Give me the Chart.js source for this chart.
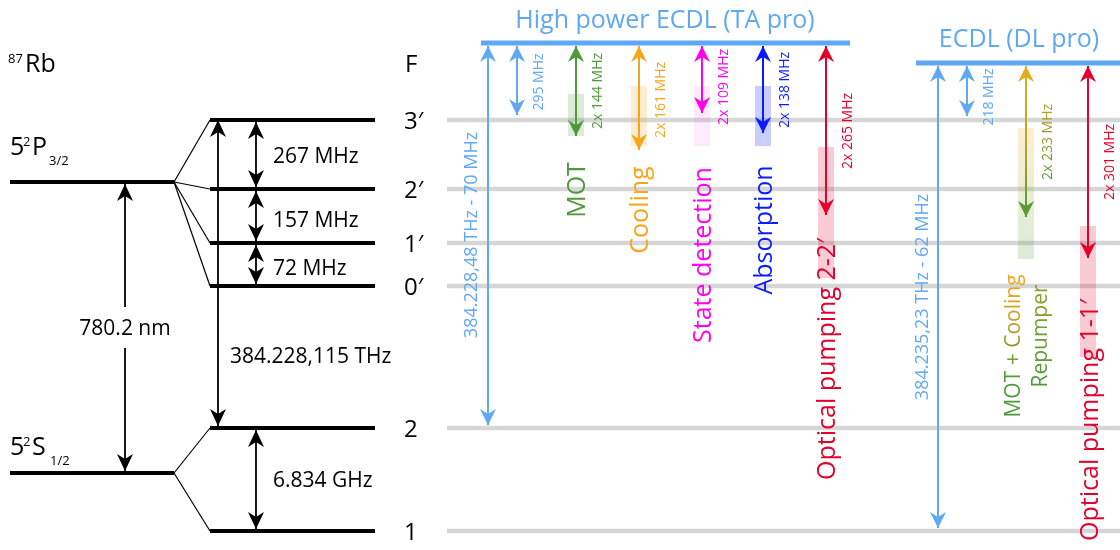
<!DOCTYPE html>
<html>
<head>
<meta charset="utf-8">
<script src="https://cdn.jsdelivr.net/npm/chart.js@4.4.1/dist/chart.umd.min.js"></script>
<style>
  html, body { margin: 0; padding: 0; background: #fff; }
  #wrap { width: 1120px; height: 550px; }
</style>
</head>
<body>
<div id="wrap"><canvas id="c"></canvas></div>
<script>
// 87Rb D2 line level scheme + laser setup, drawn on a schematic energy axis
// (arbitrary units, not to scale)

// --- levels ---
const hfNames   = ['3′', '2′', '1′', '0′', '2', '1'];
const hfEnergy  = [430, 361, 307, 264, 122, 19];
const fineEnergy = [368, 77];                 // 5²P3/2, 5²S1/2
const splitLabels = ['267 MHz', '157 MHz', '72 MHz', '6.834 GHz'];
const d2Labels = ['780.2 nm', '384.228,115 THz'];

// --- high power ECDL (TA pro) ---
const taTitle = 'High power ECDL (TA pro)';
const taLevel = 507;
const taUses   = ['', '', 'MOT', 'Cooling', 'State detection', 'Absorption', 'Optical pumping 2-2′'];
const taShifts = ['384.228,48 THz - 70 MHz', '295 MHz', '2x 144 MHz', '2x 161 MHz', '2x 109 MHz', '2x 138 MHz', '2x 265 MHz'];
const taArrowEnd  = [125, 435, 414, 400, 437, 417, 335];
const taShadeTop  = [null, null, 456, 464, 464, 464, 403];
const taShadeBot  = [null, null, 414, 404, 404, 404, 272];

// --- ECDL (DL pro) ---
const dlTitle = 'ECDL (DL pro)';
const dlLevel = 487;
const dlUses   = ['', '', 'MOT + Cooling', 'Optical pumping 1-1′'];
const dlUses2  = ['', '', 'Repumper', ''];
const dlShifts = ['384.235,23 THz - 62 MHz', '218 MHz', '2x 233 MHz', '2x 301 MHz'];
const dlArrowEnd = [22, 434, 333, 292];
const dlShadeTop = [null, null, 422, 324];
const dlShadeBot = [null, null, 291, 193];

// --- colours ---
const LBLUE = '#5ea8f4', GREEN = '#4e9a3b', ORANGE = '#f8a51c', MAGENTA = '#ff00f0',
      BLUE = '#0a1bff', RED = '#e3002c', GOLD = '#e2ad1f', GRAY = '#d6d6d6';
const taColors = [LBLUE, LBLUE, GREEN, ORANGE, MAGENTA, BLUE, RED];
const taShadeColors = [null, null, 'rgba(78,154,59,0.2)', 'rgba(248,165,28,0.2)',
                       'rgba(255,0,240,0.08)', 'rgba(10,27,255,0.22)', 'rgba(227,0,44,0.2)'];
const dlColors = [LBLUE, LBLUE, 'grad', RED];

// --- layout (x columns, label anchors) ---
const L = {
  fineX: [10, 174], hfX: [210, 375], grayX: [447, 1120],
  taBar: [481, 850], dlBar: [916, 1120],
  taCol: [488, 517, 576, 639, 702, 763, 826],
  dlCol: [938, 967, 1026, 1088],
  taShiftY: [315, 468, 459, 450, 463, 460, 419],
  dlShiftY: [253, 453, 408, 388],
  taUseY: [0, 0, 360, 340, 295, 320, 191],
  dlUseY: [0, 0, 204, 130],
  d2X: 125, d2Gap: [243, 202], d2bX: 218, splitX: 256
};

function seg(x1, y1, x2, y2, color, width, extra) {
  return Object.assign({
    data: [{ x: x1, y: y1 }, { x: x2, y: y2 }],
    showLine: true, borderColor: color, borderWidth: width,
    pointRadius: 0, pointHoverRadius: 0, fill: false, tension: 0
  }, extra || {});
}

const datasets = [];

// grey reference lines across the laser area
hfEnergy.forEach(e => datasets.push(seg(L.grayX[0], e, L.grayX[1], e, GRAY, 4.5, { order: 9 })));

// fine and hyperfine levels
fineEnergy.forEach(e => datasets.push(seg(L.fineX[0], e, L.fineX[1], e, '#000', 4, { order: 5 })));
hfEnergy.forEach(e => datasets.push(seg(L.hfX[0], e, L.hfX[1], e, '#000', 4, { order: 5 })));
// splitting fans
hfEnergy.slice(0, 4).forEach(e => datasets.push(seg(L.fineX[1], fineEnergy[0], L.hfX[0], e, '#000', 1.2, { order: 6 })));
hfEnergy.slice(4).forEach(e => datasets.push(seg(L.fineX[1], fineEnergy[1], L.hfX[0], e, '#000', 1.2, { order: 6 })));

// black arrows: 780.2 nm (broken for label), F=2 -> F'=3, splittings
const BH = { len: 17, half: 8, notch: 5 };
datasets.push(seg(L.d2X, L.d2Gap[0], L.d2X, fineEnergy[0] - 2, '#000', 1.8, { order: 3, heads: ['end'], head: BH }));
datasets.push(seg(L.d2X, L.d2Gap[1], L.d2X, fineEnergy[1] + 2, '#000', 1.8, { order: 3, heads: ['end'], head: BH }));
datasets.push(seg(L.d2bX, hfEnergy[4] + 2, L.d2bX, hfEnergy[0], '#000', 1.8, { order: 3, heads: ['start', 'end'], head: BH }));
[[0, 1], [1, 2], [2, 3], [4, 5]].forEach(([a, b]) => {
  datasets.push(seg(L.splitX, hfEnergy[a] - 2, L.splitX, hfEnergy[b] + 2, '#000', 1.8,
    { order: 3, heads: ['start', 'end'], head: BH }));
});

// laser bars
datasets.push(seg(L.taBar[0], taLevel, L.taBar[1], taLevel, LBLUE, 5, { order: 4 }));
datasets.push(seg(L.dlBar[0], dlLevel, L.dlBar[1], dlLevel, LBLUE, 5, { order: 4 }));

const CH = { len: 16, half: 8, notch: 5 };

function vGradient(chart, yTop, yBot, stops) {
  const ys = chart.scales.y;
  const g = chart.ctx.createLinearGradient(0, ys.getPixelForValue(yTop), 0, ys.getPixelForValue(yBot));
  stops.forEach((c, i) => g.addColorStop(i / (stops.length - 1), c));
  return g;
}

// TA pro beams
L.taCol.forEach((x, i) => {
  if (taShadeTop[i] !== null) {
    datasets.push(seg(x, taShadeTop[i], x, taShadeBot[i], taShadeColors[i], 16, { order: 8 }));
  }
  datasets.push(seg(x, taLevel - 3, x, taArrowEnd[i], taColors[i], 2,
    { order: 2, heads: ['start', 'end'], head: CH }));
});

// DL pro beams
L.dlCol.forEach((x, i) => {
  const top = dlLevel - 3, bot = dlArrowEnd[i];
  if (dlShadeTop[i] !== null) {
    const st = dlShadeTop[i], sb = dlShadeBot[i];
    const shade = dlColors[i] === 'grad'
      ? (ctx => ctx.chart.chartArea ? vGradient(ctx.chart, st, sb, ['rgba(240,175,30,0.2)', 'rgba(78,154,59,0.2)']) : 'rgba(160,160,40,0.2)')
      : 'rgba(227,0,44,0.2)';
    datasets.push(seg(x, st, x, sb, shade, 16, { order: 8 }));
  }
  if (dlColors[i] === 'grad') {
    datasets.push(seg(x, top, x, bot,
      ctx => ctx.chart.chartArea ? vGradient(ctx.chart, top, bot, [GOLD, '#b7a72a', GREEN]) : GOLD, 2,
      { order: 2, heads: ['start', 'end'], head: CH, headColors: [GOLD, '#5f9a38'] }));
  } else {
    datasets.push(seg(x, top, x, bot, dlColors[i], 2, { order: 2, heads: ['start', 'end'], head: CH }));
  }
});

// --- text items (x/y on the same scales) ---
const FONT = '"Open Sans", "Noto Sans", sans-serif';
const texts = [];
function txt(t, x, y, size, color, opts) { texts.push(Object.assign({ t, x, y, size, color }, opts || {})); }

txt('87', 8, 487, 13, '#000');
txt('Rb', 25, 478, 25, '#000');
txt('5', 10, 395, 25, '#000'); txt('2', 23, 404, 13, '#000');
txt('P', 32, 395, 25, '#000'); txt('3/2', 49, 385, 13, '#000');
txt('5', 10, 95, 25, '#000'); txt('2', 23, 104, 13, '#000');
txt('S', 32, 95, 25, '#000'); txt('1/2', 50, 85, 13, '#000');

txt(d2Labels[0], L.d2X, 215, 21, '#000', { align: 'center' });
txt(d2Labels[1], 230, 187, 21, '#000');
[387, 323, 275, 63].forEach((y, i) => txt(splitLabels[i], 273, y, 21, '#000'));

txt('F', 405, 478, 24, '#000');
hfNames.forEach((n, i) => txt(n, 404, hfEnergy[i] - 9, 24, '#000'));

txt(taTitle, 665, 522, 25, LBLUE, { align: 'center' });
txt(dlTitle, 1019, 503, 25, LBLUE, { align: 'center' });

L.taCol.forEach((x, i) => {
  const off = i === 0 ? -11 : 26;
  txt(taShifts[i], x + off, L.taShiftY[i], i === 0 ? 18 : 14, taColors[i], { rot: true, align: 'center' });
  if (taUses[i]) txt(taUses[i], x + 9, L.taUseY[i], 25, taColors[i], { rot: true, align: 'center' });
});
L.dlCol.forEach((x, i) => {
  const off = i === 0 ? -10 : 26;
  const grad = dlColors[i] === 'grad';
  txt(dlShifts[i], x + off, L.dlShiftY[i], i === 0 ? 18 : 14, grad ? '#6a9a30' : dlColors[i],
    { rot: true, align: 'center', grad: grad ? [GREEN, '#8a9b2c', '#b39f28'] : null });
});
txt(dlUses[2], L.dlCol[2] - 6, L.dlUseY[2], 21, GREEN,
  { rot: true, align: 'center', grad: [GREEN, GREEN, '#8f9c2a', '#d2a520', ORANGE] });
txt(dlUses2[2], L.dlCol[2] + 21, 214, 21, '#7d9a32',
  { rot: true, align: 'center', grad: [GREEN, '#96a02c'] });
txt(dlUses[3], L.dlCol[3] + 10, L.dlUseY[3], 25, RED, { rot: true, align: 'center' });

// draws arrow heads at the flagged ends of the arrow datasets
const arrowHeads = {
  id: 'arrowHeads',
  afterDatasetsDraw(chart) {
    const ctx = chart.ctx;
    chart.data.datasets.forEach((ds, i) => {
      if (!ds.heads) return;
      const pts = chart.getDatasetMeta(i).data;
      const a = pts[0], b = pts[pts.length - 1];
      const h = ds.head;
      ds.heads.forEach(end => {
        const tip = end === 'end' ? b : a, from = end === 'end' ? a : b;
        const dx = tip.x - from.x, dy = tip.y - from.y;
        const d = Math.hypot(dx, dy) || 1;
        const ux = dx / d, uy = dy / d;
        const bx = tip.x - ux * h.len, by = tip.y - uy * h.len;
        let col = typeof ds.borderColor === 'string' ? ds.borderColor : '#000';
        if (ds.headColors) col = ds.headColors[end === 'start' ? 0 : 1];
        ctx.save();
        ctx.fillStyle = col;
        ctx.beginPath();
        ctx.moveTo(tip.x, tip.y);
        ctx.lineTo(bx - uy * h.half, by + ux * h.half);
        ctx.lineTo(tip.x - ux * (h.len - h.notch), tip.y - uy * (h.len - h.notch));
        ctx.lineTo(bx + uy * h.half, by - ux * h.half);
        ctx.closePath();
        ctx.fill();
        ctx.restore();
      });
    });
  }
};

// draws the text items, rotated ones read bottom to top
const textLayer = {
  id: 'textLayer',
  afterDraw(chart) {
    const ctx = chart.ctx;
    const xs = chart.scales.x, ys = chart.scales.y;
    texts.forEach(it => {
      ctx.save();
      ctx.translate(xs.getPixelForValue(it.x), ys.getPixelForValue(it.y));
      if (it.rot) ctx.rotate(-Math.PI / 2);
      ctx.font = `${it.size}px ${FONT}`;
      ctx.textAlign = it.align || 'left';
      ctx.textBaseline = 'alphabetic';
      if (it.grad) {
        const w = ctx.measureText(it.t).width;
        const x0 = it.align === 'center' ? -w / 2 : 0;
        const g = ctx.createLinearGradient(x0, 0, x0 + w, 0);
        it.grad.forEach((c, k) => g.addColorStop(k / (it.grad.length - 1), c));
        ctx.fillStyle = g;
      } else {
        ctx.fillStyle = it.color;
      }
      ctx.fillText(it.t, 0, 0);
      ctx.restore();
    });
  }
};

new Chart(document.getElementById('c'), {
  type: 'scatter',
  data: { datasets },
  options: {
    responsive: true,
    maintainAspectRatio: false,
    animation: false,
    events: [],
    layout: { padding: 0 },
    plugins: { legend: { display: false }, tooltip: { enabled: false } },
    scales: {
      x: { type: 'linear', min: 0, max: 1120, display: false },
      y: { type: 'linear', min: 0, max: 550, display: false }
    }
  },
  plugins: [arrowHeads, textLayer]
});
</script>
</body>
</html>
